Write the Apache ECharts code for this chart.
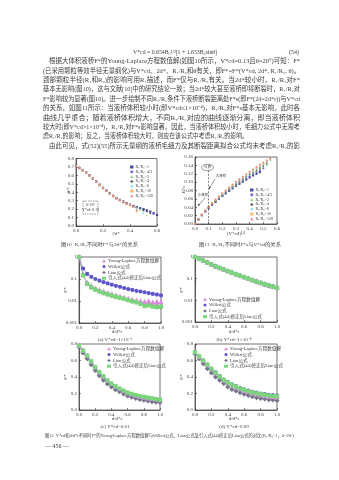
<!DOCTYPE html>
<html><head><meta charset="utf-8">
<script src="https://cdn.jsdelivr.net/npm/echarts@6/dist/echarts.min.js"></script>
<style>html,body{margin:0;padding:0;background:#fff}#c{width:339px;height:480px}</style>
</head><body><div id="c"></div><script>
// ---------- Figure 10: F* against 2d* for several R1/R2 ----------
const ratioNames = ['R₁/R₂=1','R₁/R₂=4/3','R₁/R₂=2','R₁/R₂=4','R₁/R₂=8','R₁/R₂=16','R₁/R₂=128'];
const gap10 = [0,0.025,0.05,0.075,0.1,0.125,0.15,0.175,0.2,0.225,0.25,0.275,0.3,0.325,0.35,0.375,0.4,0.425,0.45,0.475,0.5,0.525,0.55,0.575,0.6];
const f10_r1   = [0.715,0.69,0.664,0.634,0.602,0.566,0.528,0.49,0.453,0.42,0.388,0.358,0.332,0.31,0.289,0.27,0.253,0.238,0.224,0.211,0.198,0.186,0.172,0.152,0.13];
const f10_r43  = [0.714,0.689,0.663,0.633,0.601,0.565,0.527,0.489,0.452,0.419,0.387,0.357,0.331,0.309,0.288,0.269,0.252,0.237,0.223,0.209,0.196,0.182,0.165,0.145];
const f10_r2   = [0.713,0.688,0.662,0.632,0.6,0.564,0.526,0.488,0.451,0.418,0.385,0.355,0.329,0.306,0.285,0.266,0.249,0.233,0.218,0.2,0.178,0.13];
const f10_r4   = [0.712,0.687,0.662,0.632,0.6,0.563,0.525,0.487,0.45,0.417,0.385,0.356,0.33,0.308,0.287,0.268,0.251,0.236,0.221,0.206,0.19,0.172,0.15];
const f10_r8   = [0.712,0.686,0.661,0.631,0.599,0.562,0.524,0.486,0.449,0.416,0.384,0.354,0.328,0.306,0.285,0.266,0.249,0.233,0.216,0.196,0.15];
const f10_r16  = [0.711,0.686,0.66,0.63,0.598,0.562,0.524,0.486,0.449,0.415,0.383,0.353,0.327,0.304,0.283,0.264,0.246,0.226,0.175];
const f10_r128 = [0.711,0.685,0.66,0.63,0.598,0.561,0.523,0.485,0.448,0.415,0.383,0.353,0.327,0.305,0.284,0.265,0.248,0.23,0.19];

// ---------- Figure 11: Fs* against (V*cd)^1/2 ----------
const root11 = [0,0.025,0.05,0.075,0.1,0.125,0.15,0.175,0.2,0.225,0.25,0.275,0.3,0.325,0.35,0.375,0.4,0.425,0.45,0.475,0.5,0.525,0.55];
const f11_r1   = [0,0.011,0.021,0.03,0.038,0.046,0.053,0.06,0.067,0.073,0.079,0.085,0.091,0.096,0.101,0.106,0.111,0.116,0.12,0.124];
const f11_r43  = [0,0.011,0.021,0.03,0.039,0.047,0.054,0.061,0.068,0.074,0.081,0.087,0.093,0.098,0.104,0.109,0.114,0.119,0.124,0.129,0.133];
const f11_r2   = [0,0.011,0.022,0.031,0.04,0.048,0.055,0.062,0.069,0.076,0.082,0.088,0.094,0.1,0.106,0.111,0.117,0.122,0.127,0.132,0.137,0.141];
const f11_r4   = [0,0.012,0.022,0.031,0.04,0.048,0.056,0.063,0.07,0.077,0.083,0.09,0.096,0.102,0.108,0.113,0.119,0.124,0.129,0.134,0.139,0.144];
const f11_r8   = [0,0.012,0.022,0.032,0.041,0.049,0.057,0.064,0.071,0.078,0.085,0.091,0.098,0.104,0.11,0.115,0.121,0.126,0.132,0.137,0.142,0.147,0.152];
const f11_r16  = [0,0.012,0.023,0.032,0.041,0.05,0.058,0.065,0.073,0.08,0.087,0.093,0.1,0.106,0.112,0.118,0.124,0.129,0.135,0.14,0.145,0.15,0.155];
const f11_r128 = [0,0.012,0.023,0.033,0.042,0.051,0.059,0.067,0.074,0.081,0.088,0.095,0.102,0.108,0.114,0.12,0.126,0.132,0.137,0.143,0.148,0.153,0.158];

// ---------- Figure 12: F* against d/d*r, four liquid volumes ----------
const methodNames = ['Young-Laplace方程数值解','Willett公式','Lian公式','引入式(44)修正后Lian公式'];
const sep12 = [0,0.05,0.1,0.15,0.2,0.25,0.3,0.35,0.4,0.45,0.5,0.55,0.6,0.65,0.7,0.75,0.8,0.85,0.9,0.95,1.0];
// (a) V*cd = 1e-5
const ylA   = [1,0.16,0.066,0.046,0.036,0.03,0.026,0.022,0.0195,0.017,0.0155,0.0138,0.0122,0.011,0.0102,0.0094,0.0088,0.0095,0.0083,0.0089,0.0086];
const wilA  = [1,0.3,0.17,0.125,0.1,0.084,0.072,0.063,0.055,0.049,0.044,0.039,0.035,0.032,0.029,0.027,0.025,0.023,0.021,0.0195,0.018];
const lianA = [1,0.15,0.062,0.043,0.034,0.028,0.024,0.021,0.018,0.016,0.0145,0.0128,0.0113,0.01,0.009,0.0081,0.0074,0.0067,0.0062,0.0057,0.0053];
const modA  = [1,0.15,0.06,0.042,0.033,0.027,0.023,0.02,0.0175,0.0155,0.014,0.0124,0.011,0.0097,0.0086,0.0074,0.0058,0.0063,0.0056,0.0052,0.0055];
// (b) V*cd = 1e-4
const ylB   = [1,0.83,0.68,0.55,0.45,0.37,0.31,0.265,0.225,0.19,0.16,0.136,0.116,0.099,0.085,0.073,0.063,0.055,0.048,0.042,0.037];
const wilB  = [1,0.84,0.69,0.56,0.46,0.38,0.32,0.27,0.23,0.195,0.165,0.14,0.12,0.102,0.088,0.076,0.066,0.057,0.05,0.044,0.039];
const lianB = [1,0.82,0.67,0.54,0.44,0.36,0.3,0.26,0.22,0.186,0.157,0.133,0.113,0.097,0.083,0.071,0.061,0.053,0.046,0.041,0.036];
const modB  = [1,0.83,0.68,0.55,0.45,0.37,0.31,0.265,0.225,0.19,0.161,0.137,0.117,0.1,0.086,0.074,0.064,0.056,0.049,0.043,0.038];
// (c) V*cd = 0.01
const ylC   = [0.78,0.72,0.655,0.585,0.515,0.455,0.4,0.355,0.315,0.28,0.252,0.227,0.205,0.188,0.173,0.161,0.151,0.142,0.134,0.127,0.12];
const wilC  = [0.78,0.71,0.65,0.58,0.51,0.45,0.395,0.35,0.31,0.275,0.247,0.222,0.2,0.183,0.168,0.156,0.146,0.137,0.129,0.122,0.116];
const lianC = [0.76,0.69,0.62,0.55,0.48,0.415,0.36,0.315,0.28,0.245,0.22,0.195,0.17,0.155,0.14,0.128,0.118,0.109,0.101,0.095,0.09];
const modC  = [0.78,0.72,0.66,0.59,0.52,0.46,0.41,0.36,0.32,0.29,0.26,0.235,0.21,0.195,0.18,0.17,0.16,0.15,0.14,0.132,0.125];
// (d) V*cd = 0.09
const ylD   = [0.7,0.645,0.595,0.545,0.495,0.445,0.4,0.36,0.328,0.298,0.275,0.254,0.235,0.219,0.205,0.193,0.183,0.174,0.166,0.16,0.155];
const wilD  = [0.7,0.65,0.6,0.55,0.5,0.455,0.41,0.37,0.34,0.31,0.29,0.27,0.25,0.235,0.22,0.21,0.2,0.192,0.185,0.18,0.175];
const lianD = [0.68,0.62,0.56,0.5,0.45,0.4,0.36,0.32,0.28,0.25,0.23,0.21,0.19,0.175,0.16,0.15,0.14,0.132,0.125,0.12,0.115];
const modD  = [0.7,0.65,0.6,0.55,0.5,0.45,0.405,0.365,0.335,0.305,0.283,0.262,0.243,0.227,0.213,0.202,0.192,0.183,0.176,0.17,0.165];

// ---------- page text ----------
const formulaText = 'V*cd = 0.654B₀¹/²[1 + 1.653B₀sinθ]';
const paragraph = [
  '根据大体积液桥F*的Young-Laplace方程数值解(如图10所示，V*cd=0.13且θ=20°)可知：F*',
  '(已采用颗粒等效半径无量纲化)与V*cd、2d*、R₁/R₂和θ有关，即F*=F*(V*cd, 2d*, R₁/R₂, θ)。',
  '颈部颗粒半径(R₁和R₂)的影响可用R₁描述，而F*仅与R₁/R₂有关。当2d*较小时，R₁/R₂对F*',
  '基本无影响(图10)，这与文献[10]中的研究结论一致；当2d*较大甚至液桥即将断裂时，R₁/R₂对',
  'F*影响较为显著(图10)。进一步绘制不同R₁/R₂条件下液桥断裂距离处F*s(即F*(2d=2d*r))与V*cd',
  '的关系，如图11所示：当液桥体积较小时(即V*cd≤1×10⁻⁴)，R₁/R₂对F*s基本无影响，此时各',
  '曲线几乎重合；随着液桥体积增大，不同R₁/R₂对应的曲线逐渐分离，即当液桥体积',
  '较大时(即V*cd>1×10⁻⁴)，R₁/R₂对F*s影响显著。因此，当液桥体积较小时，毛细力公式中无需考',
  '虑R₁/R₂的影响；反之，当液桥体积较大时，则应在该公式中考虑R₁/R₂的影响。',
  '由此可见，式(52)(55)所示无量纲的液桥毛细力及其断裂距离拟合公式均未考虑R₁/R₂的影'
];
const cap10 = '图10  R₁/R₂不同时F*与2d*的关系';
const cap11 = '图11  R₁/R₂不同时F*s与V*cd的关系';
const cap12 = '图12  V*cd和d/d*r不同时F*的Young-Laplace方程数值解与Willett公式、Lian公式及引入式(44)修正后Lian公式的对比(R₁/R₂=1，θ=20°)';
const subCaps = ['(a) V*cd=1×10⁻⁵','(b) V*cd=1×10⁻⁴','(c) V*cd=0.01','(d) V*cd=0.09'];
const pageNo = '— 456 —';

const FONT = '"Liberation Serif","Noto Sans CJK SC",serif';
const INK = '#3c3c3c';

const mctx = document.createElement('canvas').getContext('2d');
function measure(t, size){ mctx.font = size + 'px ' + FONT; return mctx.measureText(t).width; }
function textEl(t, x, y, size, sx){
  return {type:'text', x:x, y:y, scaleX:sx, silent:true,
    style:{text:t, fontSize:size, fontFamily:FONT, fill:INK, textVerticalAlign:'middle', verticalAlign:'middle'}};
}
function fitText(t, x0, x1, y, size){ return textEl(t, x0, y, size, (x1-x0)/measure(t, size)); }
function label(t, x, y, size, opts){
  return Object.assign({type:'text', x:x, y:y, silent:true,
    style:{text:t, fontSize:size, fontFamily:FONT, fill:INK, textAlign:'center', align:'center', textVerticalAlign:'middle', verticalAlign:'middle'}}, opts||{});
}

const pairs = (xs, ys) => ys.map((y,i)=>[xs[i], y]);

// axes
function valAxis(gi, min, max, interval, digits){
  return {gridIndex:gi, type:'value', min, max, interval,
    axisLine:{show:true, lineStyle:{color:'#333', width:0.7}},
    axisTick:{show:true, inside:true, length:2, lineStyle:{color:'#333', width:0.6}},
    axisLabel:{fontSize:5, margin:2, color:INK, fontFamily:FONT, formatter:v=>v.toFixed(digits)},
    splitLine:{show:false}};
}
function logAxis(gi){
  return {gridIndex:gi, type:'log', logBase:10, min:0.001, max:1,
    axisLine:{show:true, lineStyle:{color:'#333', width:0.7}},
    axisTick:{show:true, inside:true, length:2, lineStyle:{color:'#333', width:0.6}},
    minorTick:{show:true, splitNumber:9, length:1.2, lineStyle:{color:'#333', width:0.4}},
    axisLabel:{fontSize:5, margin:2, color:INK, fontFamily:FONT, formatter:v=>{const e=Math.round(Math.log10(v)); return e===0?'1':Math.pow(10,e).toFixed(-e);}},
    splitLine:{show:false}};
}

const grids = [
  {left:76, top:158.5, width:81, height:67.5},
  {left:195, top:157, width:82, height:67},
  {left:79, top:257, width:82, height:66},
  {left:195, top:257, width:82, height:65},
  {left:79, top:344, width:81, height:66},
  {left:195, top:344, width:82, height:66}
].map(g=>Object.assign({show:true, borderColor:'#333', borderWidth:0.7, backgroundColor:'rgba(0,0,0,0)'}, g));

const xAxes = [
  valAxis(0,0,0.6,0.2,1), valAxis(1,0,0.6,0.1,1),
  valAxis(2,0,1,0.2,1), valAxis(3,0,1,0.2,1), valAxis(4,0,1,0.2,1), valAxis(5,0,1,0.2,1)
];
const yAxes = [
  valAxis(0,0,0.8,0.1,1), valAxis(1,0,0.16,0.02,2),
  logAxis(2), logAxis(3), valAxis(4,0,0.8,0.2,1), valAxis(5,0,0.8,0.2,1)
];

const ratioStyle = [
  {c:'#2b2f8f', s:'rect'}, {c:'#6a4fc0', s:'circle'}, {c:'#86d46f', s:'triangle'},
  {c:'#3a3a3a', s:'diamond'}, {c:'#78d8e8', s:'diamond'}, {c:'#f2b46a', s:'rect'}, {c:'#e8788a', s:'triangle'}
];
const f10 = [f10_r1,f10_r43,f10_r2,f10_r4,f10_r8,f10_r16,f10_r128];
const f11 = [f11_r1,f11_r43,f11_r2,f11_r4,f11_r8,f11_r16,f11_r128];

const series = [];
f10.forEach((ys,i)=>series.push({type:'scatter', name:ratioNames[i], xAxisIndex:0, yAxisIndex:0,
  symbol:ratioStyle[i].s, symbolSize:2.2, itemStyle:{color:ratioStyle[i].c, opacity:0.85}, data:pairs(gap10, ys)}));
f11.forEach((ys,i)=>series.push({type:'scatter', name:ratioNames[i], xAxisIndex:1, yAxisIndex:1,
  symbol:ratioStyle[i].s, symbolSize:2.2, itemStyle:{color:ratioStyle[i].c, opacity:0.85}, data:pairs(root11, ys)}));
// dashed boundary at (V*cd)^1/2 = 0.1
series.push({type:'line', xAxisIndex:1, yAxisIndex:1, data:[], silent:true,
  markLine:{silent:true, symbol:'none', label:{show:false},
    lineStyle:{type:[2,1.5], color:'#333', width:0.6},
    data:[[{coord:[0.1,0.128]},{coord:[0.1,0]}]]}});

const methodStyle = [
  {c:'#d98ad9', s:'emptyTriangle'}, {c:'#5a55c8', s:'emptyCircle'},
  {c:'#76768a', s:'emptyDiamond'}, {c:'#7ad67a', s:'emptyRect'}
];
const sets12 = [[ylA,wilA,lianA,modA],[ylB,wilB,lianB,modB],[ylC,wilC,lianC,modC],[ylD,wilD,lianD,modD]];
const drawOrder = [2,1,0,3];
sets12.forEach((set,k)=>{
  drawOrder.forEach(m=>{
    series.push({type:'line', name:methodNames[m], xAxisIndex:2+k, yAxisIndex:2+k,
      symbol:methodStyle[m].s, symbolSize:2.2, showSymbol:true,
      lineStyle:{color:methodStyle[m].c, width:0.5},
      itemStyle:{color:methodStyle[m].c, borderWidth:0.5},
      data:pairs(sep12, set[m])});
  });
});

function ratioLegend(left, top){
  return {left, top, orient:'vertical', itemWidth:3.5, itemHeight:3, itemGap:0.8, padding:0,
    textStyle:{fontSize:4, lineHeight:3.6, color:INK, fontFamily:FONT, padding:[0,0,0,-3]},
    data:ratioNames.map((n,i)=>({name:n, icon:ratioStyle[i].s}))};
}
function methodLegend(left, top){
  return {left, top, orient:'vertical', itemWidth:4, itemHeight:3, itemGap:1.2, padding:0,
    textStyle:{fontSize:4.6, lineHeight:4.6, color:INK, fontFamily:FONT, padding:[0,0,0,-3]},
    data:methodNames.map((n,i)=>({name:n, icon:methodStyle[i].s.replace('empty','').toLowerCase()}))};
}

const graphics = [];
// formula and paragraph
graphics.push(fitText(formulaText, 133, 217, 52, 6));
graphics.push(label('(54)', 294, 52, 6));
const rowY = [61.5,70.9,80.3,89.7,99.1,108.5,117.9,127.3,136.7,146.1];
const PSIZE = 6.3;
paragraph.forEach((t,i)=>{
  const x0 = (i===0 || i===9) ? 49 : 43;
  const x1 = (i===8) ? 248 : 300;
  graphics.push(fitText(t, x0, x1, rowY[i], PSIZE));
});
// figure 10 labels
graphics.push(label('F*', 69, 190, 5, {rotation:Math.PI/2}));
graphics.push(label('2d*', 116, 234, 5));
graphics.push(fitText(cap10, 61, 138, 244.5, 5));
graphics.push({type:'rect', silent:true, shape:{x:83, y:201, width:15, height:13},
  style:{fill:'none', stroke:'#333', lineWidth:0.5, lineDash:[1.5,1]}});
graphics.push(label('θ=20°', 90.5, 205, 3.8));
graphics.push(label('V*cd=0.13', 90.5, 210.5, 3.8));
// figure 11 labels
graphics.push(label('F*s', 184, 190, 5, {rotation:Math.PI/2}));
graphics.push(label('(V*cd)¹/²', 236, 234, 5));
graphics.push(fitText(cap11, 199, 281, 244.5, 5));
graphics.push({type:'ellipse', silent:true, shape:{cx:207.5, cy:167.5, rx:6, ry:3.2},
  style:{fill:'#fff', stroke:'#333', lineWidth:0.5}});
graphics.push(label('分界', 207.5, 167.5, 3.5));
graphics.push({type:'line', silent:true, shape:{x1:209, y1:189, x2:215, y2:179}, style:{stroke:'#333', lineWidth:0.5}});
graphics.push({type:'polygon', silent:true, shape:{points:[[209,189],[209.2,186.6],[210.8,187.6]]}, style:{fill:'#333'}});
graphics.push(label('大液桥', 221, 176.5, 3.5));
graphics.push({type:'line', silent:true, shape:{x1:205, y1:198, x2:198, y2:206}, style:{stroke:'#333', lineWidth:0.5}});
graphics.push({type:'polygon', silent:true, shape:{points:[[198,206],[198.6,203.6],[200.1,204.9]]}, style:{fill:'#333'}});
graphics.push(label('小液桥', 203, 195.5, 3.5));
// figure 12 labels
[[66,290],[182,290],[66,377],[182,377]].forEach(p=>graphics.push(label('F*', p[0], p[1], 5, {rotation:Math.PI/2})));
[[117,332],[234,331.5],[117,418.5],[234,418.5]].forEach(p=>graphics.push(label('d/d*r', p[0], p[1], 5)));
[[115,339.5],[234,339.5],[115,426.5],[234,426.5]].forEach((p,i)=>graphics.push(label(subCaps[i], p[0], p[1], 5)));
graphics.push(fitText(cap12, 45, 294, 435.5, 4.6));
graphics.push(label(pageNo, 57, 446, 6));

const chart = echarts.init(document.getElementById('c'), null, {renderer:'canvas'});
chart.setOption({
  animation:false,
  backgroundColor:'#fff',
  textStyle:{fontFamily:FONT},
  grid:grids, xAxis:xAxes, yAxis:yAxes,
  legend:[ratioLegend(130,165), ratioLegend(250,188),
    methodLegend(102,258.5), methodLegend(203,297), methodLegend(107,346.5), methodLegend(224,346.5)],
  series:series,
  graphic:{elements:graphics}
});
</script></body></html>
